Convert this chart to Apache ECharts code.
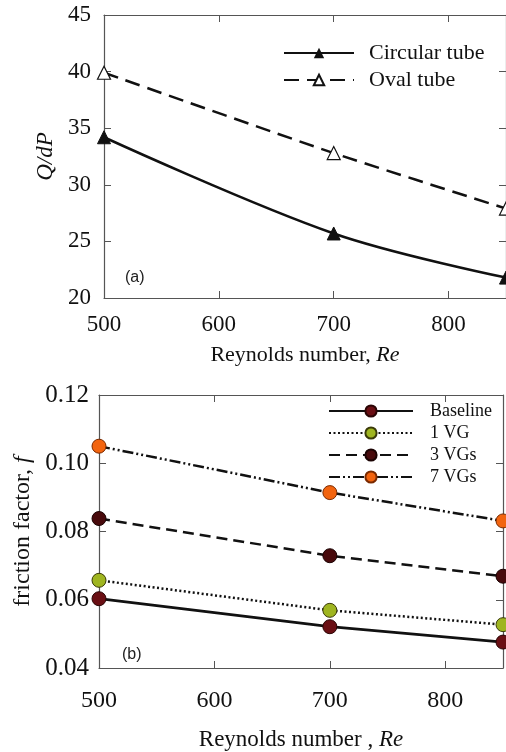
<!DOCTYPE html>
<html><head><meta charset="utf-8">
<script src="https://cdn.jsdelivr.net/npm/echarts@6/dist/echarts.min.js"></script>
<style>html,body{margin:0;padding:0;background:#fff}#c{width:506px;height:752px}</style>
</head><body><div id="c"></div>
<script>
// Panel (a)
const reA = [500, 700, 850];
const circularTube = [34.2, 25.7, 21.8];
const ovalTube = [39.9, 32.8, 27.9];
// Panel (b)
const reB = [500, 700, 850];
const baseline = [0.0603, 0.0521, 0.0476];
const vg1 = [0.0657, 0.0569, 0.0527];
const vg3 = [0.0838, 0.0729, 0.0669];
const vg7 = [0.1050, 0.0914, 0.0831];

const pair = (xs, ys) => xs.map((x, i) => [x, ys[i]]);
const serif = 'Liberation Serif';
const axisCol = '#555';

function xAx(grid, pos, show, fs, margin) {
  return {
    type: 'value', gridIndex: grid, position: pos, min: 500, max: 850, interval: 100,
    axisLine: { show: true, onZero: false, lineStyle: { color: axisCol, width: 1.2 } },
    axisTick: { show: true, inside: true, length: 7, lineStyle: { color: axisCol } },
    axisLabel: { show: show, fontFamily: serif, fontSize: fs, color: '#111', margin: margin, showMaxLabel: false },
    splitLine: { show: false }
  };
}
function yAx(grid, pos, show, min, max, iv, fmt, fs, margin) {
  return {
    type: 'value', gridIndex: grid, position: pos, min: min, max: max, interval: iv,
    axisLine: { show: true, onZero: false, lineStyle: { color: axisCol, width: 1.2 } },
    axisTick: { show: true, inside: true, length: 7, lineStyle: { color: axisCol } },
    axisLabel: { show: show, fontFamily: serif, fontSize: fs, color: '#111', margin: margin, formatter: fmt },
    splitLine: { show: false }
  };
}

const xAxes = [xAx(0, 'bottom', true, 23, 15), xAx(0, 'top', false, 23, 15), xAx(1, 'bottom', true, 24, 21), xAx(1, 'top', false, 24, 21)];
xAxes[0].name = '{a|Reynolds number, }{b|Re}';
xAxes[0].nameLocation = 'middle'; xAxes[0].nameGap = 46;
xAxes[0].nameTextStyle = { rich: { a: { fontFamily: serif, fontSize: 22, color: '#111' }, b: { fontFamily: serif, fontSize: 22, fontStyle: 'italic', color: '#111' } } };
xAxes[2].name = '{a|Reynolds number , }{b|Re}';
xAxes[2].nameLocation = 'middle'; xAxes[2].nameGap = 60;
xAxes[2].nameTextStyle = { rich: { a: { fontFamily: serif, fontSize: 23, color: '#111' }, b: { fontFamily: serif, fontSize: 23, fontStyle: 'italic', color: '#111' } } };

const fmtA = v => String(v);
const fmtB = v => v.toFixed(2);
const yAxes = [
  yAx(0, 'left', true, 20, 45, 5, fmtA, 23, 13), yAx(0, 'right', false, 20, 45, 5, fmtA, 23, 13),
  yAx(1, 'left', true, 0.04, 0.12, 0.02, fmtB, 25, 10), yAx(1, 'right', false, 0.04, 0.12, 0.02, fmtB, 25, 10)
];
yAxes[0].name = 'Q/dP'; yAxes[0].nameLocation = 'middle'; yAxes[0].nameGap = 45; yAxes[0].nameRotate = 90;
yAxes[0].nameTextStyle = { fontFamily: serif, fontSize: 23, fontStyle: 'italic', color: '#111' };
yAxes[2].name = '{a|friction factor, }{b|f}'; yAxes[2].nameLocation = 'middle'; yAxes[2].nameGap = 62; yAxes[2].nameRotate = 90;
yAxes[2].nameTextStyle = { rich: { a: { fontFamily: serif, fontSize: 24, color: '#111' }, b: { fontFamily: serif, fontSize: 24, fontStyle: 'italic', color: '#111' } } };

const blk = '#111';
const series = [
  { name: 'Circular tube', type: 'line', xAxisIndex: 0, yAxisIndex: 0, data: pair(reA, circularTube), smooth: 0.35,
    symbol: 'triangle', symbolSize: 13, itemStyle: { color: blk, borderColor: blk },
    lineStyle: { color: blk, width: 2.5, type: 'solid' } },
  { name: 'Oval tube', type: 'line', xAxisIndex: 0, yAxisIndex: 0, data: pair(reA, ovalTube), smooth: 0.2,
    symbol: 'triangle', symbolSize: 13, itemStyle: { color: '#fff', borderColor: blk, borderWidth: 1.2 },
    lineStyle: { color: blk, width: 2.5, type: [15, 8] } },
  { name: 'Baseline', type: 'line', xAxisIndex: 2, yAxisIndex: 2, data: pair(reB, baseline),
    symbol: 'circle', symbolSize: 14, itemStyle: { color: '#6a0f14', borderColor: '#2a0505', borderWidth: 1 },
    lineStyle: { color: blk, width: 2.8, type: 'solid' } },
  { name: '1 VG', type: 'line', xAxisIndex: 2, yAxisIndex: 2, data: pair(reB, vg1),
    symbol: 'circle', symbolSize: 14, itemStyle: { color: '#9fb520', borderColor: '#3a3a08', borderWidth: 1 },
    lineStyle: { color: blk, width: 2.5, type: [2, 2.5] } },
  { name: '3 VGs', type: 'line', xAxisIndex: 2, yAxisIndex: 2, data: pair(reB, vg3),
    symbol: 'circle', symbolSize: 14, itemStyle: { color: '#480a0c', borderColor: '#1a0202', borderWidth: 1 },
    lineStyle: { color: blk, width: 2.5, type: [11, 6] } },
  { name: '7 VGs', type: 'line', xAxisIndex: 2, yAxisIndex: 2, data: pair(reB, vg7),
    symbol: 'circle', symbolSize: 14, itemStyle: { color: '#f2640f', borderColor: '#7a2a00', borderWidth: 1 },
    lineStyle: { color: blk, width: 2.5, type: [11, 3, 2, 3, 2, 3] } }
];

const chart = echarts.init(document.getElementById('c'), null, { renderer: 'canvas' });
chart.setOption({
  backgroundColor: '#fff',
  animation: false,
  grid: [
    { left: 104, right: 0, top: 15, bottom: 454 },
    { left: 99, right: 3, top: 395, bottom: 77 }
  ],
  xAxis: xAxes,
  yAxis: yAxes,
  legend: [
    { data: ['Circular tube', 'Oval tube'], orient: 'vertical', left: 283, top: 42, padding: 0, itemWidth: 70, itemHeight: 13,
      itemGap: 5, textStyle: { fontFamily: serif, fontSize: 22, color: '#111', padding: [0, 0, 0, 10] } },
    { data: ['Baseline', '1 VG', '3 VGs', '7 VGs'], orient: 'vertical', left: 328, top: 402, padding: 0, itemWidth: 84, itemHeight: 14,
      itemGap: 4, textStyle: { fontFamily: serif, fontSize: 18, color: '#111', padding: [0, 0, 0, 12] } }
  ],
  graphic: [
    { type: 'text', left: 125, top: 270, style: { text: '(a)', fontFamily: 'Liberation Sans', fontSize: 16, fill: '#222' } },
    { type: 'text', left: 122, top: 647, style: { text: '(b)', fontFamily: 'Liberation Sans', fontSize: 16, fill: '#222' } }
  ],
  series: series
});
</script></body></html>
